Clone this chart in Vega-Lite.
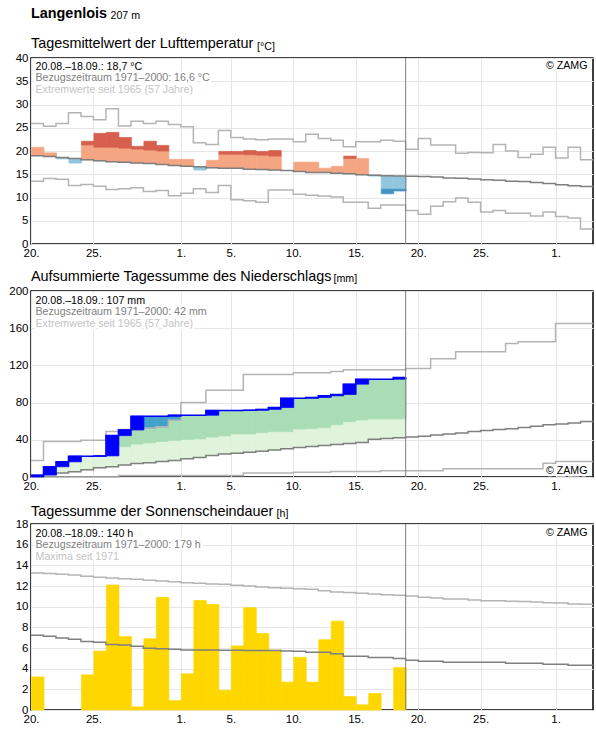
{
  "$schema": "https://vega.github.io/schema/vega-lite/v6.json",
  "background": "white",
  "padding": {"left": 8, "top": 5, "right": 2, "bottom": 5},
  "config": {
    "font": "Liberation Sans",
    "view": {"stroke": "#000", "strokeWidth": 1.5},
    "axis": {"labelFont": "Liberation Sans", "labelFontSize": 11.5, "labelColor": "#000", "gridColor": "#e6e6e6", "gridWidth": 1, "domain": false, "ticks": false, "tickSize": 0, "labelPadding": 3, "labelOverlap": false, "labelFlush": false, "titleFont": "Liberation Sans"},
    "bar": {"binSpacing": 0, "strokeWidth": 0.7},
    "title": {"font": "Liberation Sans", "fontSize": 14.4, "fontWeight": "normal", "color": "#000", "anchor": "start", "frame": "group", "subtitleFont": "Liberation Sans", "subtitleColor": "#000", "subtitleFontSize": 14.4}
  },
  "bounds": "flush",
  "spacing": 47,
  "resolve": {"scale": {"x": "independent", "y": "independent", "color": "independent", "stroke": "independent"}},
  "datasets": {
    "tclim": [
      {"d": "2021-08-20", "norm": 19.0, "max": 25.9, "min": 13.5},
      {"d": "2021-08-21", "norm": 18.8, "max": 25.3, "min": 14.1},
      {"d": "2021-08-22", "norm": 18.6, "max": 25.9, "min": 13.9},
      {"d": "2021-08-23", "norm": 18.4, "max": 28.2, "min": 12.6},
      {"d": "2021-08-24", "norm": 18.1, "max": 27.4, "min": 12.8},
      {"d": "2021-08-25", "norm": 17.9, "max": 26.7, "min": 12.4},
      {"d": "2021-08-26", "norm": 17.7, "max": 29.1, "min": 11.7},
      {"d": "2021-08-27", "norm": 17.6, "max": 25.4, "min": 11.9},
      {"d": "2021-08-28", "norm": 17.4, "max": 26.4, "min": 12.1},
      {"d": "2021-08-29", "norm": 17.3, "max": 25.9, "min": 11.3},
      {"d": "2021-08-30", "norm": 17.1, "max": 26.4, "min": 11.5},
      {"d": "2021-08-31", "norm": 16.9, "max": 25.7, "min": 10.4},
      {"d": "2021-09-01", "norm": 16.7, "max": 25.2, "min": 10.9},
      {"d": "2021-09-02", "norm": 16.6, "max": 21.8, "min": 11.9},
      {"d": "2021-09-03", "norm": 16.4, "max": 21.4, "min": 11.1},
      {"d": "2021-09-04", "norm": 16.3, "max": 24.4, "min": 12.6},
      {"d": "2021-09-05", "norm": 16.3, "max": 22.9, "min": 9.5},
      {"d": "2021-09-06", "norm": 16.1, "max": 22.6, "min": 9.3},
      {"d": "2021-09-07", "norm": 16.0, "max": 22.4, "min": 9.0},
      {"d": "2021-09-08", "norm": 15.9, "max": 22.6, "min": 11.6},
      {"d": "2021-09-09", "norm": 15.8, "max": 22.6, "min": 11.6},
      {"d": "2021-09-10", "norm": 15.6, "max": 22.0, "min": 10.7},
      {"d": "2021-09-11", "norm": 15.4, "max": 23.6, "min": 10.5},
      {"d": "2021-09-12", "norm": 15.4, "max": 22.7, "min": 10.3},
      {"d": "2021-09-13", "norm": 15.2, "max": 22.3, "min": 10.1},
      {"d": "2021-09-14", "norm": 15.1, "max": 20.9, "min": 9.0},
      {"d": "2021-09-15", "norm": 14.9, "max": 22.0, "min": 9.0},
      {"d": "2021-09-16", "norm": 14.8, "max": 22.0, "min": 7.7},
      {"d": "2021-09-17", "norm": 14.7, "max": 22.3, "min": 8.4},
      {"d": "2021-09-18", "norm": 14.6, "max": 22.1, "min": 8.4},
      {"d": "2021-09-19", "norm": 14.55, "max": 20.4, "min": 7.2},
      {"d": "2021-09-20", "norm": 14.5, "max": 22.7, "min": 6.4},
      {"d": "2021-09-21", "norm": 14.4, "max": 21.3, "min": 8.1},
      {"d": "2021-09-22", "norm": 14.2, "max": 21.3, "min": 9.1},
      {"d": "2021-09-23", "norm": 14.15, "max": 19.5, "min": 9.9},
      {"d": "2021-09-24", "norm": 14.0, "max": 19.7, "min": 9.0},
      {"d": "2021-09-25", "norm": 13.8, "max": 19.6, "min": 6.9},
      {"d": "2021-09-26", "norm": 13.7, "max": 21.4, "min": 7.2},
      {"d": "2021-09-27", "norm": 13.5, "max": 20.0, "min": 6.6},
      {"d": "2021-09-28", "norm": 13.45, "max": 18.6, "min": 6.6},
      {"d": "2021-09-29", "norm": 13.25, "max": 19.3, "min": 6.0},
      {"d": "2021-09-30", "norm": 13.0, "max": 20.8, "min": 6.9},
      {"d": "2021-10-01", "norm": 12.75, "max": 18.5, "min": 5.9},
      {"d": "2021-10-02", "norm": 12.55, "max": 20.8, "min": 5.6},
      {"d": "2021-10-03", "norm": 12.35, "max": 18.1, "min": 3.2},
      {"d": "2021-10-04", "norm": 12.35, "max": 18.1, "min": 3.2}
    ],
    "tband": [
      {"d": "2021-08-20", "band": "warm", "lo": 19.0, "hi": 20.8},
      {"d": "2021-08-21", "band": "warm", "lo": 18.8, "hi": 19.6},
      {"d": "2021-08-22", "band": "cool", "lo": 18.3, "hi": 18.6},
      {"d": "2021-08-23", "band": "cool", "lo": 17.4, "hi": 18.4},
      {"d": "2021-08-24", "band": "warm", "lo": 18.1, "hi": 21.3},
      {"d": "2021-08-24", "band": "hot", "lo": 21.3, "hi": 22.1},
      {"d": "2021-08-25", "band": "warm", "lo": 17.9, "hi": 20.8},
      {"d": "2021-08-25", "band": "hot", "lo": 20.8, "hi": 23.8},
      {"d": "2021-08-26", "band": "warm", "lo": 17.7, "hi": 20.8},
      {"d": "2021-08-26", "band": "hot", "lo": 20.8, "hi": 24.0},
      {"d": "2021-08-27", "band": "warm", "lo": 17.6, "hi": 20.6},
      {"d": "2021-08-27", "band": "hot", "lo": 20.6, "hi": 22.9},
      {"d": "2021-08-28", "band": "warm", "lo": 17.4, "hi": 20.4},
      {"d": "2021-08-28", "band": "hot", "lo": 20.4, "hi": 21.0},
      {"d": "2021-08-29", "band": "warm", "lo": 17.3, "hi": 20.2},
      {"d": "2021-08-29", "band": "hot", "lo": 20.2, "hi": 22.1},
      {"d": "2021-08-30", "band": "warm", "lo": 17.1, "hi": 20.0},
      {"d": "2021-08-30", "band": "hot", "lo": 20.0, "hi": 21.2},
      {"d": "2021-08-31", "band": "warm", "lo": 16.9, "hi": 18.2},
      {"d": "2021-09-01", "band": "warm", "lo": 16.7, "hi": 18.2},
      {"d": "2021-09-02", "band": "cool", "lo": 15.9, "hi": 16.6},
      {"d": "2021-09-03", "band": "warm", "lo": 16.4, "hi": 18.0},
      {"d": "2021-09-04", "band": "warm", "lo": 16.3, "hi": 19.3},
      {"d": "2021-09-04", "band": "hot", "lo": 19.3, "hi": 19.9},
      {"d": "2021-09-05", "band": "warm", "lo": 16.3, "hi": 19.3},
      {"d": "2021-09-05", "band": "hot", "lo": 19.3, "hi": 19.9},
      {"d": "2021-09-06", "band": "warm", "lo": 16.1, "hi": 19.2},
      {"d": "2021-09-06", "band": "hot", "lo": 19.2, "hi": 20.1},
      {"d": "2021-09-07", "band": "warm", "lo": 16.0, "hi": 19.1},
      {"d": "2021-09-07", "band": "hot", "lo": 19.1, "hi": 19.9},
      {"d": "2021-09-08", "band": "warm", "lo": 15.9, "hi": 18.9},
      {"d": "2021-09-08", "band": "hot", "lo": 18.9, "hi": 20.1},
      {"d": "2021-09-10", "band": "warm", "lo": 15.6, "hi": 17.6},
      {"d": "2021-09-11", "band": "warm", "lo": 15.4, "hi": 17.6},
      {"d": "2021-09-12", "band": "warm", "lo": 15.4, "hi": 16.3},
      {"d": "2021-09-13", "band": "warm", "lo": 15.2, "hi": 16.7},
      {"d": "2021-09-14", "band": "warm", "lo": 15.1, "hi": 18.4},
      {"d": "2021-09-14", "band": "hot", "lo": 18.4, "hi": 18.9},
      {"d": "2021-09-15", "band": "warm", "lo": 14.9, "hi": 18.4},
      {"d": "2021-09-16", "band": "cool", "lo": 14.6, "hi": 14.8},
      {"d": "2021-09-17", "band": "cool", "lo": 11.8, "hi": 14.7},
      {"d": "2021-09-17", "band": "cold", "lo": 10.8, "hi": 11.8},
      {"d": "2021-09-18", "band": "cool", "lo": 11.8, "hi": 14.6},
      {"d": "2021-09-18", "band": "cold", "lo": 11.4, "hi": 11.8}
    ],
    "pclim": [
      {"d": "2021-08-20", "norm": 1.7, "max": 17.8, "min": 0},
      {"d": "2021-08-21", "norm": 3.1, "max": 38.1, "min": 0},
      {"d": "2021-08-22", "norm": 4.2, "max": 38.1, "min": 0},
      {"d": "2021-08-23", "norm": 5.6, "max": 38.1, "min": 0},
      {"d": "2021-08-24", "norm": 7.8, "max": 39.6, "min": 0},
      {"d": "2021-08-25", "norm": 9.9, "max": 39.6, "min": 0},
      {"d": "2021-08-26", "norm": 11.0, "max": 48.8, "min": 0},
      {"d": "2021-08-27", "norm": 12.8, "max": 51.0, "min": 1.5},
      {"d": "2021-08-28", "norm": 14.6, "max": 51.0, "min": 1.5},
      {"d": "2021-08-29", "norm": 15.3, "max": 52.7, "min": 1.5},
      {"d": "2021-08-30", "norm": 16.7, "max": 54.0, "min": 1.5},
      {"d": "2021-08-31", "norm": 17.8, "max": 61.0, "min": 1.5},
      {"d": "2021-09-01", "norm": 19.6, "max": 80.2, "min": 1.5},
      {"d": "2021-09-02", "norm": 21.0, "max": 80.2, "min": 1.5},
      {"d": "2021-09-03", "norm": 23.1, "max": 93.4, "min": 1.5},
      {"d": "2021-09-04", "norm": 24.6, "max": 93.4, "min": 1.5},
      {"d": "2021-09-05", "norm": 25.6, "max": 93.4, "min": 1.5},
      {"d": "2021-09-06", "norm": 26.7, "max": 110.3, "min": 4.3},
      {"d": "2021-09-07", "norm": 27.8, "max": 110.3, "min": 4.3},
      {"d": "2021-09-08", "norm": 28.9, "max": 110.3, "min": 4.3},
      {"d": "2021-09-09", "norm": 30.3, "max": 110.3, "min": 4.3},
      {"d": "2021-09-10", "norm": 31.7, "max": 112.0, "min": 5.0},
      {"d": "2021-09-11", "norm": 32.8, "max": 112.0, "min": 5.0},
      {"d": "2021-09-12", "norm": 33.9, "max": 112.0, "min": 5.0},
      {"d": "2021-09-13", "norm": 35.0, "max": 113.5, "min": 6.0},
      {"d": "2021-09-14", "norm": 36.0, "max": 115.2, "min": 6.0},
      {"d": "2021-09-15", "norm": 37.1, "max": 115.2, "min": 6.0},
      {"d": "2021-09-16", "norm": 40.7, "max": 115.2, "min": 6.0},
      {"d": "2021-09-17", "norm": 41.4, "max": 115.2, "min": 6.8},
      {"d": "2021-09-18", "norm": 42.3, "max": 115.2, "min": 6.8},
      {"d": "2021-09-19", "norm": 43.1, "max": 116.6, "min": 6.8},
      {"d": "2021-09-20", "norm": 43.8, "max": 116.6, "min": 6.8},
      {"d": "2021-09-21", "norm": 45.2, "max": 127.2, "min": 6.8},
      {"d": "2021-09-22", "norm": 46.3, "max": 127.2, "min": 8.8},
      {"d": "2021-09-23", "norm": 47.4, "max": 134.7, "min": 8.8},
      {"d": "2021-09-24", "norm": 48.8, "max": 134.7, "min": 8.8},
      {"d": "2021-09-25", "norm": 49.9, "max": 134.7, "min": 8.8},
      {"d": "2021-09-26", "norm": 51.0, "max": 134.7, "min": 8.8},
      {"d": "2021-09-27", "norm": 52.0, "max": 143.6, "min": 8.8},
      {"d": "2021-09-28", "norm": 53.1, "max": 145.4, "min": 8.8},
      {"d": "2021-09-29", "norm": 54.5, "max": 145.4, "min": 8.8},
      {"d": "2021-09-30", "norm": 56.3, "max": 145.4, "min": 14.9},
      {"d": "2021-10-01", "norm": 57.1, "max": 165.0, "min": 16.7},
      {"d": "2021-10-02", "norm": 58.1, "max": 165.0, "min": 16.7},
      {"d": "2021-10-03", "norm": 59.6, "max": 165.0, "min": 16.7},
      {"d": "2021-10-04", "norm": 59.6, "max": 165.0, "min": 16.7}
    ],
    "pcum": [
      {"d": "2021-08-20", "cum": 2.0}, {"d": "2021-08-21", "cum": 11.0}, {"d": "2021-08-22", "cum": 16.3},
      {"d": "2021-08-23", "cum": 22.4}, {"d": "2021-08-24", "cum": 22.4}, {"d": "2021-08-25", "cum": 22.7},
      {"d": "2021-08-26", "cum": 44.5}, {"d": "2021-08-27", "cum": 50.6}, {"d": "2021-08-28", "cum": 65.2},
      {"d": "2021-08-29", "cum": 65.2}, {"d": "2021-08-30", "cum": 65.2}, {"d": "2021-08-31", "cum": 66.4},
      {"d": "2021-09-01", "cum": 66.4}, {"d": "2021-09-02", "cum": 66.4}, {"d": "2021-09-03", "cum": 71.6},
      {"d": "2021-09-04", "cum": 71.6}, {"d": "2021-09-05", "cum": 71.6}, {"d": "2021-09-06", "cum": 71.8},
      {"d": "2021-09-07", "cum": 72.7}, {"d": "2021-09-08", "cum": 74.7}, {"d": "2021-09-09", "cum": 84.6},
      {"d": "2021-09-10", "cum": 84.6}, {"d": "2021-09-11", "cum": 85.5}, {"d": "2021-09-12", "cum": 87.3},
      {"d": "2021-09-13", "cum": 88.7}, {"d": "2021-09-14", "cum": 99.8}, {"d": "2021-09-15", "cum": 105.1},
      {"d": "2021-09-16", "cum": 105.1}, {"d": "2021-09-17", "cum": 105.1}, {"d": "2021-09-18", "cum": 107.0},
      {"d": "2021-09-19", "cum": 107.0}
    ],
    "prain": [
      {"d": "2021-08-20", "lo": 0, "hi": 2.0}, {"d": "2021-08-21", "lo": 2.0, "hi": 11.0},
      {"d": "2021-08-22", "lo": 11.0, "hi": 16.3}, {"d": "2021-08-23", "lo": 16.3, "hi": 22.4},
      {"d": "2021-08-25", "lo": 22.4, "hi": 22.7}, {"d": "2021-08-26", "lo": 22.7, "hi": 44.5},
      {"d": "2021-08-27", "lo": 44.5, "hi": 50.6}, {"d": "2021-08-28", "lo": 50.6, "hi": 65.2},
      {"d": "2021-08-31", "lo": 65.2, "hi": 66.4}, {"d": "2021-09-03", "lo": 66.4, "hi": 71.6},
      {"d": "2021-09-06", "lo": 71.6, "hi": 71.8}, {"d": "2021-09-07", "lo": 71.8, "hi": 72.7},
      {"d": "2021-09-08", "lo": 72.7, "hi": 74.7}, {"d": "2021-09-09", "lo": 74.7, "hi": 84.6},
      {"d": "2021-09-11", "lo": 84.6, "hi": 85.5}, {"d": "2021-09-12", "lo": 85.5, "hi": 87.3},
      {"d": "2021-09-13", "lo": 87.3, "hi": 88.7}, {"d": "2021-09-14", "lo": 88.7, "hi": 99.8},
      {"d": "2021-09-15", "lo": 99.8, "hi": 105.1}, {"d": "2021-09-18", "lo": 105.1, "hi": 107.0}
    ],
    "pband": [
      {"d": "2021-08-20", "band": "normal", "lo": 1.7, "hi": 2.0},
      {"d": "2021-08-21", "band": "normal", "lo": 3.1, "hi": 11.0},
      {"d": "2021-08-22", "band": "normal", "lo": 4.2, "hi": 16.3},
      {"d": "2021-08-23", "band": "normal", "lo": 5.6, "hi": 22.4},
      {"d": "2021-08-24", "band": "normal", "lo": 7.8, "hi": 22.4},
      {"d": "2021-08-25", "band": "normal", "lo": 9.9, "hi": 22.7},
      {"d": "2021-08-26", "band": "normal", "lo": 11.0, "hi": 30.5},
      {"d": "2021-08-26", "band": "above", "lo": 30.5, "hi": 44.5},
      {"d": "2021-08-27", "band": "normal", "lo": 12.8, "hi": 32.7},
      {"d": "2021-08-27", "band": "above", "lo": 32.7, "hi": 50.6},
      {"d": "2021-08-28", "band": "normal", "lo": 14.6, "hi": 35.3},
      {"d": "2021-08-28", "band": "above", "lo": 35.3, "hi": 51.0},
      {"d": "2021-08-28", "band": "record", "lo": 51.0, "hi": 65.2},
      {"d": "2021-08-29", "band": "normal", "lo": 15.3, "hi": 36.7},
      {"d": "2021-08-29", "band": "above", "lo": 36.7, "hi": 52.7},
      {"d": "2021-08-29", "band": "record", "lo": 52.7, "hi": 65.2},
      {"d": "2021-08-30", "band": "normal", "lo": 16.7, "hi": 38.2},
      {"d": "2021-08-30", "band": "above", "lo": 38.2, "hi": 54.0},
      {"d": "2021-08-30", "band": "record", "lo": 54.0, "hi": 65.2},
      {"d": "2021-08-31", "band": "normal", "lo": 17.8, "hi": 39.3},
      {"d": "2021-08-31", "band": "above", "lo": 39.3, "hi": 61.0},
      {"d": "2021-08-31", "band": "record", "lo": 61.0, "hi": 66.4},
      {"d": "2021-09-01", "band": "normal", "lo": 19.6, "hi": 40.3},
      {"d": "2021-09-01", "band": "above", "lo": 40.3, "hi": 66.4},
      {"d": "2021-09-02", "band": "normal", "lo": 21.0, "hi": 41.0},
      {"d": "2021-09-02", "band": "above", "lo": 41.0, "hi": 66.4},
      {"d": "2021-09-03", "band": "normal", "lo": 23.1, "hi": 43.0},
      {"d": "2021-09-03", "band": "above", "lo": 43.0, "hi": 71.6},
      {"d": "2021-09-04", "band": "normal", "lo": 24.6, "hi": 44.2},
      {"d": "2021-09-04", "band": "above", "lo": 44.2, "hi": 71.6},
      {"d": "2021-09-05", "band": "normal", "lo": 25.6, "hi": 46.3},
      {"d": "2021-09-05", "band": "above", "lo": 46.3, "hi": 71.6},
      {"d": "2021-09-06", "band": "normal", "lo": 26.7, "hi": 46.3},
      {"d": "2021-09-06", "band": "above", "lo": 46.3, "hi": 71.8},
      {"d": "2021-09-07", "band": "normal", "lo": 27.8, "hi": 47.8},
      {"d": "2021-09-07", "band": "above", "lo": 47.8, "hi": 72.7},
      {"d": "2021-09-08", "band": "normal", "lo": 28.9, "hi": 48.8},
      {"d": "2021-09-08", "band": "above", "lo": 48.8, "hi": 74.7},
      {"d": "2021-09-09", "band": "normal", "lo": 30.3, "hi": 48.8},
      {"d": "2021-09-09", "band": "above", "lo": 48.8, "hi": 84.6},
      {"d": "2021-09-10", "band": "normal", "lo": 31.7, "hi": 51.7},
      {"d": "2021-09-10", "band": "above", "lo": 51.7, "hi": 84.6},
      {"d": "2021-09-11", "band": "normal", "lo": 32.8, "hi": 52.0},
      {"d": "2021-09-11", "band": "above", "lo": 52.0, "hi": 85.5},
      {"d": "2021-09-12", "band": "normal", "lo": 33.9, "hi": 53.1},
      {"d": "2021-09-12", "band": "above", "lo": 53.1, "hi": 87.3},
      {"d": "2021-09-13", "band": "normal", "lo": 35.0, "hi": 56.3},
      {"d": "2021-09-13", "band": "above", "lo": 56.3, "hi": 88.7},
      {"d": "2021-09-14", "band": "normal", "lo": 36.0, "hi": 59.5},
      {"d": "2021-09-14", "band": "above", "lo": 59.5, "hi": 99.8},
      {"d": "2021-09-15", "band": "normal", "lo": 37.1, "hi": 61.3},
      {"d": "2021-09-15", "band": "above", "lo": 61.3, "hi": 105.1},
      {"d": "2021-09-16", "band": "normal", "lo": 40.7, "hi": 62.5},
      {"d": "2021-09-16", "band": "above", "lo": 62.5, "hi": 105.1},
      {"d": "2021-09-17", "band": "normal", "lo": 41.4, "hi": 62.5},
      {"d": "2021-09-17", "band": "above", "lo": 62.5, "hi": 105.1},
      {"d": "2021-09-18", "band": "normal", "lo": 42.3, "hi": 62.5},
      {"d": "2021-09-18", "band": "above", "lo": 62.5, "hi": 107.0}
    ],
    "sun": [
      {"d": "2021-08-20", "h": 3.2}, {"d": "2021-08-24", "h": 3.4}, {"d": "2021-08-25", "h": 5.7},
      {"d": "2021-08-26", "h": 12.1}, {"d": "2021-08-27", "h": 7.1}, {"d": "2021-08-28", "h": 0.3},
      {"d": "2021-08-29", "h": 6.9}, {"d": "2021-08-30", "h": 10.9}, {"d": "2021-08-31", "h": 0.9},
      {"d": "2021-09-01", "h": 3.5}, {"d": "2021-09-02", "h": 10.6}, {"d": "2021-09-03", "h": 10.2},
      {"d": "2021-09-04", "h": 1.9}, {"d": "2021-09-05", "h": 6.2}, {"d": "2021-09-06", "h": 9.9},
      {"d": "2021-09-07", "h": 7.4}, {"d": "2021-09-08", "h": 5.8}, {"d": "2021-09-09", "h": 2.7},
      {"d": "2021-09-10", "h": 5.1}, {"d": "2021-09-11", "h": 2.7}, {"d": "2021-09-12", "h": 6.8},
      {"d": "2021-09-13", "h": 8.6}, {"d": "2021-09-14", "h": 1.3}, {"d": "2021-09-15", "h": 0.5},
      {"d": "2021-09-16", "h": 1.6}, {"d": "2021-09-18", "h": 4.1}
    ],
    "sclim": [
      {"d": "2021-08-20", "norm": 7.23, "max": 13.26}, {"d": "2021-08-21", "norm": 7.13, "max": 13.2},
      {"d": "2021-08-22", "norm": 6.97, "max": 13.13}, {"d": "2021-08-23", "norm": 6.84, "max": 13.07},
      {"d": "2021-08-24", "norm": 6.64, "max": 12.94}, {"d": "2021-08-25", "norm": 6.55, "max": 12.84},
      {"d": "2021-08-26", "norm": 6.35, "max": 12.78}, {"d": "2021-08-27", "norm": 6.29, "max": 12.7},
      {"d": "2021-08-28", "norm": 6.16, "max": 12.65}, {"d": "2021-08-29", "norm": 5.97, "max": 12.55},
      {"d": "2021-08-30", "norm": 5.93, "max": 12.48}, {"d": "2021-08-31", "norm": 5.87, "max": 12.42},
      {"d": "2021-09-01", "norm": 5.8, "max": 12.32}, {"d": "2021-09-02", "norm": 5.8, "max": 12.26},
      {"d": "2021-09-03", "norm": 5.8, "max": 12.19}, {"d": "2021-09-04", "norm": 5.79, "max": 12.16},
      {"d": "2021-09-05", "norm": 5.78, "max": 12.07}, {"d": "2021-09-06", "norm": 5.77, "max": 12.0},
      {"d": "2021-09-07", "norm": 5.76, "max": 11.91}, {"d": "2021-09-08", "norm": 5.75, "max": 11.84},
      {"d": "2021-09-09", "norm": 5.7, "max": 11.78}, {"d": "2021-09-10", "norm": 5.68, "max": 11.74},
      {"d": "2021-09-11", "norm": 5.58, "max": 11.68}, {"d": "2021-09-12", "norm": 5.58, "max": 11.55},
      {"d": "2021-09-13", "norm": 5.45, "max": 11.42}, {"d": "2021-09-14", "norm": 5.2, "max": 11.36},
      {"d": "2021-09-15", "norm": 5.2, "max": 11.29}, {"d": "2021-09-16", "norm": 5.08, "max": 11.23},
      {"d": "2021-09-17", "norm": 5.08, "max": 11.16}, {"d": "2021-09-18", "norm": 4.98, "max": 11.1},
      {"d": "2021-09-19", "norm": 4.81, "max": 11.04}, {"d": "2021-09-20", "norm": 4.71, "max": 10.91},
      {"d": "2021-09-21", "norm": 4.71, "max": 10.84}, {"d": "2021-09-22", "norm": 4.61, "max": 10.75},
      {"d": "2021-09-23", "norm": 4.61, "max": 10.75}, {"d": "2021-09-24", "norm": 4.61, "max": 10.65},
      {"d": "2021-09-25", "norm": 4.61, "max": 10.58}, {"d": "2021-09-26", "norm": 4.61, "max": 10.58},
      {"d": "2021-09-27", "norm": 4.52, "max": 10.52}, {"d": "2021-09-28", "norm": 4.52, "max": 10.49},
      {"d": "2021-09-29", "norm": 4.52, "max": 10.45}, {"d": "2021-09-30", "norm": 4.42, "max": 10.39},
      {"d": "2021-10-01", "norm": 4.42, "max": 10.36}, {"d": "2021-10-02", "norm": 4.32, "max": 10.26},
      {"d": "2021-10-03", "norm": 4.32, "max": 10.23}, {"d": "2021-10-04", "norm": 4.32, "max": 10.23}
    ]
  },
  "vconcat": [
    {
      "width": 562, "height": 186,
      "title": {"text": "Langenlois", "subtitle": "Tagesmittelwert der Lufttemperatur", "fontWeight": "bold", "subtitlePadding": 16, "offset": -42},
      "layer": [
        {
          "data": {"name": "tband"},
          "mark": {"type": "bar", "binSpacing": 0},
          "encoding": {
            "x": {"field": "d", "type": "temporal", "timeUnit": "utcyearmonthdate",
              "scale": {"type": "utc", "domain": [{"year": 2021, "month": 8, "date": 20, "utc": true}, {"year": 2021, "month": 10, "date": 4, "utc": true}]},
              "axis": {"values": [{"year": 2021, "month": 8, "date": 20, "utc": true}, {"year": 2021, "month": 8, "date": 25, "utc": true}, {"year": 2021, "month": 9, "date": 1, "utc": true}, {"year": 2021, "month": 9, "date": 5, "utc": true}, {"year": 2021, "month": 9, "date": 10, "utc": true}, {"year": 2021, "month": 9, "date": 15, "utc": true}, {"year": 2021, "month": 9, "date": 20, "utc": true}, {"year": 2021, "month": 9, "date": 25, "utc": true}, {"year": 2021, "month": 10, "date": 1, "utc": true}],
                "labelExpr": "utcFormat(datum.value, '%-d.')", "labelOverlap": false, "tickCount": 60,
                "title": "207 m", "titleX": 79, "titleY": -225.3, "titleAlign": "left", "titleBaseline": "alphabetic", "titleFontSize": 10.67, "titleFontWeight": "normal", "titleColor": "#000"}},
            "y": {"field": "lo", "type": "quantitative", "scale": {"domain": [0, 40], "nice": false},
              "axis": {"values": [0, 5, 10, 15, 20, 25, 30, 35, 40], "format": "d", "tickCount": 60, "labelOverlap": false, "title": "[°C]", "titleAngle": 0, "titleX": 225.5, "titleY": -9, "titleAlign": "left", "titleBaseline": "alphabetic", "titleFontSize": 10.67, "titleFontWeight": "normal", "titleColor": "#000"}},
            "y2": {"field": "hi"},
            "color": {"field": "band", "type": "nominal", "scale": {"domain": ["warm", "hot", "cool", "cold"], "range": ["#f4a582", "#d6604d", "#92c5de", "#4393c3"]}, "legend": null},
            "stroke": {"field": "band", "type": "nominal", "scale": {"domain": ["warm", "hot", "cool", "cold"], "range": ["#f4a582", "#d6604d", "#92c5de", "#4393c3"]}, "legend": null}
          }
        },
        {
          "data": {"name": "tclim"},
          "mark": {"type": "line", "interpolate": "step-after", "color": "#b4b4b4", "strokeWidth": 1.5},
          "encoding": {"x": {"field": "d", "type": "temporal"}, "y": {"field": "max", "type": "quantitative"}}
        },
        {
          "data": {"name": "tclim"},
          "mark": {"type": "line", "interpolate": "step-after", "color": "#b4b4b4", "strokeWidth": 1.5},
          "encoding": {"x": {"field": "d", "type": "temporal"}, "y": {"field": "min", "type": "quantitative"}}
        },
        {
          "data": {"name": "tclim"},
          "mark": {"type": "line", "interpolate": "step-after", "color": "#7f7f7f", "strokeWidth": 1.5},
          "encoding": {"x": {"field": "d", "type": "temporal"}, "y": {"field": "norm", "type": "quantitative"}}
        },
        {
          "data": {"values": [{}]},
          "mark": {"type": "rule", "color": "#7f7f7f", "strokeWidth": 1},
          "encoding": {"x": {"datum": {"year": 2021, "month": 9, "date": 19, "utc": true}, "type": "temporal"}}
        },
        {
          "data": {"values": [{}]},
          "mark": {"type": "text", "text": ["20.08.–18.09.: 18,7 °C", "Bezugszeitraum 1971–2000: 16,6 °C", "Extremwerte seit 1965 (57 Jahre)"], "lineHeight": 11.7, "align": "left", "baseline": "alphabetic", "dx": 4.5, "dy": 11.5, "fontSize": 10.67, "fill": "#fff", "stroke": "#fff", "strokeWidth": 5, "strokeJoin": "round"},
          "encoding": {"x": {"datum": {"year": 2021, "month": 8, "date": 20, "utc": true}, "type": "temporal"}, "y": {"datum": 40, "type": "quantitative"}}
        },
        {
          "data": {"values": [{}]},
          "mark": {"type": "text", "text": "20.08.–18.09.: 18,7 °C", "align": "left", "baseline": "alphabetic", "dx": 4.5, "dy": 11.5, "fontSize": 10.67, "color": "#000"},
          "encoding": {"x": {"datum": {"year": 2021, "month": 8, "date": 20, "utc": true}, "type": "temporal"}, "y": {"datum": 40, "type": "quantitative"}}
        },
        {
          "data": {"values": [{}]},
          "mark": {"type": "text", "text": "Bezugszeitraum 1971–2000: 16,6 °C", "align": "left", "baseline": "alphabetic", "dx": 4.5, "dy": 23.2, "fontSize": 10.67, "color": "#808080"},
          "encoding": {"x": {"datum": {"year": 2021, "month": 8, "date": 20, "utc": true}, "type": "temporal"}, "y": {"datum": 40, "type": "quantitative"}}
        },
        {
          "data": {"values": [{}]},
          "mark": {"type": "text", "text": "Extremwerte seit 1965 (57 Jahre)", "align": "left", "baseline": "alphabetic", "dx": 4.5, "dy": 34.9, "fontSize": 10.67, "color": "#c4c4c4"},
          "encoding": {"x": {"datum": {"year": 2021, "month": 8, "date": 20, "utc": true}, "type": "temporal"}, "y": {"datum": 40, "type": "quantitative"}}
        },
        {
          "data": {"values": [{}]},
          "mark": {"type": "text", "text": "© ZAMG", "align": "right", "baseline": "alphabetic", "dx": -5.5, "dy": 11, "fontSize": 10.67, "fill": "#fff", "stroke": "#fff", "strokeWidth": 5, "strokeJoin": "round"},
          "encoding": {"x": {"datum": {"year": 2021, "month": 10, "date": 4, "utc": true}, "type": "temporal"}, "y": {"datum": 40, "type": "quantitative"}}
        },
        {
          "data": {"values": [{}]},
          "mark": {"type": "text", "text": "© ZAMG", "align": "right", "baseline": "alphabetic", "dx": -5.5, "dy": 11, "fontSize": 10.67, "color": "#000"},
          "encoding": {"x": {"datum": {"year": 2021, "month": 10, "date": 4, "utc": true}, "type": "temporal"}, "y": {"datum": 40, "type": "quantitative"}}
        }
      ]
    },
    {
      "width": 562, "height": 186,
      "title": {"text": "Aufsummierte Tagessumme des Niederschlags", "offset": -12},
      "layer": [
        {
          "data": {"name": "pband"},
          "mark": {"type": "bar", "binSpacing": 0},
          "encoding": {
            "x": {"field": "d", "type": "temporal", "timeUnit": "utcyearmonthdate",
              "scale": {"type": "utc", "domain": [{"year": 2021, "month": 8, "date": 20, "utc": true}, {"year": 2021, "month": 10, "date": 4, "utc": true}]},
              "axis": {"values": [{"year": 2021, "month": 8, "date": 20, "utc": true}, {"year": 2021, "month": 8, "date": 25, "utc": true}, {"year": 2021, "month": 9, "date": 1, "utc": true}, {"year": 2021, "month": 9, "date": 5, "utc": true}, {"year": 2021, "month": 9, "date": 10, "utc": true}, {"year": 2021, "month": 9, "date": 15, "utc": true}, {"year": 2021, "month": 9, "date": 20, "utc": true}, {"year": 2021, "month": 9, "date": 25, "utc": true}, {"year": 2021, "month": 10, "date": 1, "utc": true}],
                "labelExpr": "utcFormat(datum.value, '%-d.')", "labelOverlap": false, "tickCount": 60, "title": null}},
            "y": {"field": "lo", "type": "quantitative", "scale": {"domain": [0, 200], "nice": false},
              "axis": {"values": [0, 40, 80, 120, 160, 200], "format": "d", "tickCount": 60, "labelOverlap": false, "title": "[mm]", "titleAngle": 0, "titleX": 302, "titleY": -9.5, "titleAlign": "left", "titleBaseline": "alphabetic", "titleFontSize": 10.67, "titleFontWeight": "normal", "titleColor": "#000"}},
            "y2": {"field": "hi"},
            "color": {"field": "band", "type": "nominal", "scale": {"domain": ["normal", "above", "record"], "range": ["#e0f3db", "#a8ddb5", "#43a2ca"]}, "legend": null},
            "stroke": {"field": "band", "type": "nominal", "scale": {"domain": ["normal", "above", "record"], "range": ["#e0f3db", "#a8ddb5", "#43a2ca"]}, "legend": null}
          }
        },
        {
          "data": {"name": "pclim"},
          "mark": {"type": "line", "interpolate": "step-after", "color": "#b4b4b4", "strokeWidth": 1.5},
          "encoding": {"x": {"field": "d", "type": "temporal"}, "y": {"field": "max", "type": "quantitative"}}
        },
        {
          "data": {"name": "pclim"},
          "mark": {"type": "line", "interpolate": "step-after", "color": "#b4b4b4", "strokeWidth": 1.5},
          "encoding": {"x": {"field": "d", "type": "temporal"}, "y": {"field": "min", "type": "quantitative"}}
        },
        {
          "data": {"name": "pclim"},
          "mark": {"type": "line", "interpolate": "step-after", "color": "#7f7f7f", "strokeWidth": 1.5},
          "encoding": {"x": {"field": "d", "type": "temporal"}, "y": {"field": "norm", "type": "quantitative"}}
        },
        {
          "data": {"name": "prain"},
          "mark": {"type": "bar", "color": "#0000ff", "stroke": "#0000ff", "binSpacing": 0},
          "encoding": {"x": {"field": "d", "type": "temporal", "timeUnit": "utcyearmonthdate"}, "y": {"field": "lo", "type": "quantitative"}, "y2": {"field": "hi"}}
        },
        {
          "data": {"name": "pcum"},
          "mark": {"type": "line", "interpolate": "step-after", "color": "#0000ff", "strokeWidth": 1.5},
          "encoding": {"x": {"field": "d", "type": "temporal"}, "y": {"field": "cum", "type": "quantitative"}}
        },
        {
          "data": {"values": [{}]},
          "mark": {"type": "rule", "color": "#7f7f7f", "strokeWidth": 1},
          "encoding": {"x": {"datum": {"year": 2021, "month": 9, "date": 19, "utc": true}, "type": "temporal"}}
        },
        {
          "data": {"values": [{}]},
          "mark": {"type": "text", "text": ["20.08.–18.09.: 107 mm", "Bezugszeitraum 1971–2000: 42 mm", "Extremwerte seit 1965 (57 Jahre)"], "lineHeight": 11.7, "align": "left", "baseline": "alphabetic", "dx": 4.5, "dy": 12.5, "fontSize": 10.67, "fill": "#fff", "stroke": "#fff", "strokeWidth": 5, "strokeJoin": "round"},
          "encoding": {"x": {"datum": {"year": 2021, "month": 8, "date": 20, "utc": true}, "type": "temporal"}, "y": {"datum": 200, "type": "quantitative"}}
        },
        {
          "data": {"values": [{}]},
          "mark": {"type": "text", "text": "20.08.–18.09.: 107 mm", "align": "left", "baseline": "alphabetic", "dx": 4.5, "dy": 12.5, "fontSize": 10.67, "color": "#000"},
          "encoding": {"x": {"datum": {"year": 2021, "month": 8, "date": 20, "utc": true}, "type": "temporal"}, "y": {"datum": 200, "type": "quantitative"}}
        },
        {
          "data": {"values": [{}]},
          "mark": {"type": "text", "text": "Bezugszeitraum 1971–2000: 42 mm", "align": "left", "baseline": "alphabetic", "dx": 4.5, "dy": 24.2, "fontSize": 10.67, "color": "#808080"},
          "encoding": {"x": {"datum": {"year": 2021, "month": 8, "date": 20, "utc": true}, "type": "temporal"}, "y": {"datum": 200, "type": "quantitative"}}
        },
        {
          "data": {"values": [{}]},
          "mark": {"type": "text", "text": "Extremwerte seit 1965 (57 Jahre)", "align": "left", "baseline": "alphabetic", "dx": 4.5, "dy": 35.9, "fontSize": 10.67, "color": "#c4c4c4"},
          "encoding": {"x": {"datum": {"year": 2021, "month": 8, "date": 20, "utc": true}, "type": "temporal"}, "y": {"datum": 200, "type": "quantitative"}}
        },
        {
          "data": {"values": [{}]},
          "mark": {"type": "text", "text": "© ZAMG", "align": "right", "baseline": "alphabetic", "dx": -5.5, "dy": -3.5, "fontSize": 10.67, "fill": "#fff", "stroke": "#fff", "strokeWidth": 5, "strokeJoin": "round"},
          "encoding": {"x": {"datum": {"year": 2021, "month": 10, "date": 4, "utc": true}, "type": "temporal"}, "y": {"datum": 0, "type": "quantitative"}}
        },
        {
          "data": {"values": [{}]},
          "mark": {"type": "text", "text": "© ZAMG", "align": "right", "baseline": "alphabetic", "dx": -5.5, "dy": -3.5, "fontSize": 10.67, "color": "#000"},
          "encoding": {"x": {"datum": {"year": 2021, "month": 10, "date": 4, "utc": true}, "type": "temporal"}, "y": {"datum": 0, "type": "quantitative"}}
        }
      ]
    },
    {
      "width": 562, "height": 186,
      "title": {"text": "Tagessumme der Sonnenscheindauer", "offset": -12},
      "layer": [
        {
          "data": {"name": "sun"},
          "mark": {"type": "bar", "color": "#ffd700", "stroke": "#ffd700", "binSpacing": 0},
          "encoding": {
            "x": {"field": "d", "type": "temporal", "timeUnit": "utcyearmonthdate",
              "scale": {"type": "utc", "domain": [{"year": 2021, "month": 8, "date": 20, "utc": true}, {"year": 2021, "month": 10, "date": 4, "utc": true}]},
              "axis": {"values": [{"year": 2021, "month": 8, "date": 20, "utc": true}, {"year": 2021, "month": 8, "date": 25, "utc": true}, {"year": 2021, "month": 9, "date": 1, "utc": true}, {"year": 2021, "month": 9, "date": 5, "utc": true}, {"year": 2021, "month": 9, "date": 10, "utc": true}, {"year": 2021, "month": 9, "date": 15, "utc": true}, {"year": 2021, "month": 9, "date": 20, "utc": true}, {"year": 2021, "month": 9, "date": 25, "utc": true}, {"year": 2021, "month": 10, "date": 1, "utc": true}],
                "labelExpr": "utcFormat(datum.value, '%-d.')", "labelOverlap": false, "tickCount": 60, "title": null}},
            "y": {"field": "h", "type": "quantitative", "scale": {"domain": [0, 18], "nice": false},
              "axis": {"values": [0, 2, 4, 6, 8, 10, 12, 14, 16, 18], "format": "d", "tickCount": 60, "labelOverlap": false, "title": "[h]", "titleAngle": 0, "titleX": 245, "titleY": -8, "titleAlign": "left", "titleBaseline": "alphabetic", "titleFontSize": 10.67, "titleFontWeight": "normal", "titleColor": "#000"}}
          }
        },
        {
          "data": {"name": "sclim"},
          "mark": {"type": "line", "interpolate": "step-after", "color": "#b4b4b4", "strokeWidth": 1.5},
          "encoding": {"x": {"field": "d", "type": "temporal"}, "y": {"field": "max", "type": "quantitative"}}
        },
        {
          "data": {"name": "sclim"},
          "mark": {"type": "line", "interpolate": "step-after", "color": "#7f7f7f", "strokeWidth": 1.5},
          "encoding": {"x": {"field": "d", "type": "temporal"}, "y": {"field": "norm", "type": "quantitative"}}
        },
        {
          "data": {"values": [{}]},
          "mark": {"type": "rule", "color": "#7f7f7f", "strokeWidth": 1},
          "encoding": {"x": {"datum": {"year": 2021, "month": 9, "date": 19, "utc": true}, "type": "temporal"}}
        },
        {
          "data": {"values": [{}]},
          "mark": {"type": "text", "text": ["20.08.–18.09.: 140 h", "Bezugszeitraum 1971–2000: 179 h", "Maxima seit 1971"], "lineHeight": 11.7, "align": "left", "baseline": "alphabetic", "dx": 4.5, "dy": 12.5, "fontSize": 10.67, "fill": "#fff", "stroke": "#fff", "strokeWidth": 5, "strokeJoin": "round"},
          "encoding": {"x": {"datum": {"year": 2021, "month": 8, "date": 20, "utc": true}, "type": "temporal"}, "y": {"datum": 18, "type": "quantitative"}}
        },
        {
          "data": {"values": [{}]},
          "mark": {"type": "text", "text": "20.08.–18.09.: 140 h", "align": "left", "baseline": "alphabetic", "dx": 4.5, "dy": 12.5, "fontSize": 10.67, "color": "#000"},
          "encoding": {"x": {"datum": {"year": 2021, "month": 8, "date": 20, "utc": true}, "type": "temporal"}, "y": {"datum": 18, "type": "quantitative"}}
        },
        {
          "data": {"values": [{}]},
          "mark": {"type": "text", "text": "Bezugszeitraum 1971–2000: 179 h", "align": "left", "baseline": "alphabetic", "dx": 4.5, "dy": 24.2, "fontSize": 10.67, "color": "#808080"},
          "encoding": {"x": {"datum": {"year": 2021, "month": 8, "date": 20, "utc": true}, "type": "temporal"}, "y": {"datum": 18, "type": "quantitative"}}
        },
        {
          "data": {"values": [{}]},
          "mark": {"type": "text", "text": "Maxima seit 1971", "align": "left", "baseline": "alphabetic", "dx": 4.5, "dy": 35.9, "fontSize": 10.67, "color": "#c4c4c4"},
          "encoding": {"x": {"datum": {"year": 2021, "month": 8, "date": 20, "utc": true}, "type": "temporal"}, "y": {"datum": 18, "type": "quantitative"}}
        },
        {
          "data": {"values": [{}]},
          "mark": {"type": "text", "text": "© ZAMG", "align": "right", "baseline": "alphabetic", "dx": -5.5, "dy": 12, "fontSize": 10.67, "fill": "#fff", "stroke": "#fff", "strokeWidth": 5, "strokeJoin": "round"},
          "encoding": {"x": {"datum": {"year": 2021, "month": 10, "date": 4, "utc": true}, "type": "temporal"}, "y": {"datum": 18, "type": "quantitative"}}
        },
        {
          "data": {"values": [{}]},
          "mark": {"type": "text", "text": "© ZAMG", "align": "right", "baseline": "alphabetic", "dx": -5.5, "dy": 12, "fontSize": 10.67, "color": "#000"},
          "encoding": {"x": {"datum": {"year": 2021, "month": 10, "date": 4, "utc": true}, "type": "temporal"}, "y": {"datum": 18, "type": "quantitative"}}
        }
      ]
    }
  ]
}
